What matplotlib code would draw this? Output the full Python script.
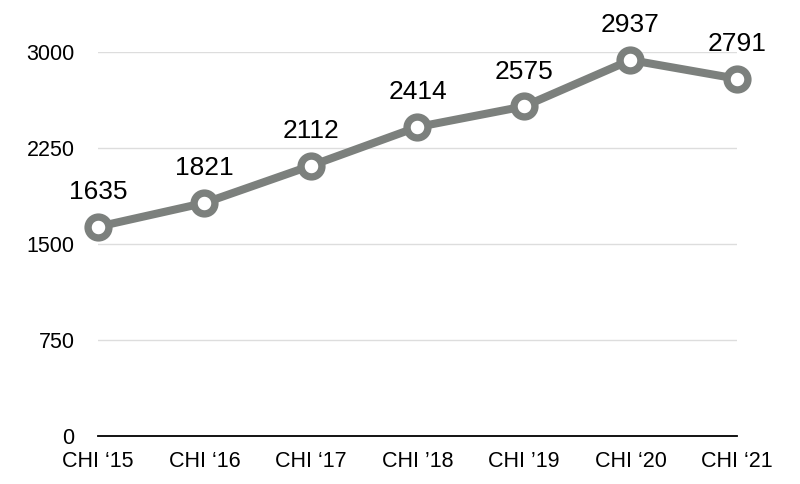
import matplotlib
matplotlib.use("Agg")
import matplotlib.pyplot as plt

categories = ["CHI \u201815", "CHI \u201816", "CHI \u201817", "CHI \u201918",
              "CHI \u201919", "CHI \u201820", "CHI \u201821"]
values = [1635, 1821, 2112, 2414, 2575, 2937, 2791]
yticks = [0, 750, 1500, 2250, 3000]

plt.rcParams['font.family'] = ['Liberation Sans', 'DejaVu Sans']

fig = plt.figure(figsize=(8, 4.84), dpi=100)
ax = fig.add_axes([98/800, 1-436/484, (737-98)/800, (436-52)/484])

color = "#7c807d"
x = list(range(len(values)))
ax.plot(x, values, color=color, lw=5.8, marker='o', ms=15, mfc='white',
        mec=color, mew=5.3, clip_on=False, zorder=3, solid_capstyle='round')

for xi, v in zip(x, values):
    ax.annotate(str(v), (xi, v), xytext=(0, 20), textcoords='offset points',
                ha='center', va='baseline', fontsize=19, color='black')

ax.set_xlim(0, len(values)-1)
ax.set_ylim(0, 3000)
ax.set_yticks(yticks)
ax.set_yticklabels([str(t) for t in yticks], fontsize=15.5)
ax.set_xticks(x)
ax.set_xticklabels(categories, fontsize=15.5)
ax.tick_params(axis='y', length=0, pad=17)
ax.tick_params(axis='x', length=0, pad=11)
for s in ['top', 'right', 'left']:
    ax.spines[s].set_visible(False)
ax.spines['bottom'].set_color('black')
ax.spines['bottom'].set_linewidth(1.3)
ax.yaxis.grid(True, color='#dddddd', lw=1)
ax.set_axisbelow(True)

fig.savefig("out.png", dpi=100)
